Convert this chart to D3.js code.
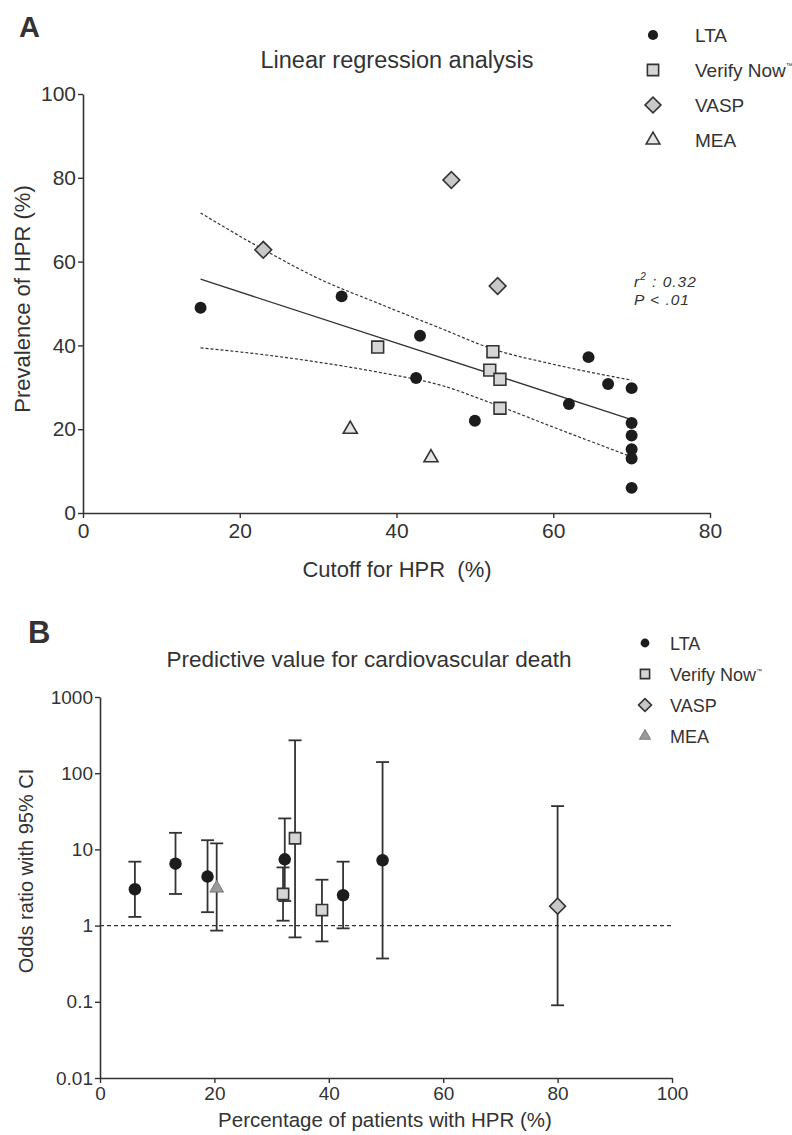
<!DOCTYPE html>
<html>
<head>
<meta charset="utf-8">
<script src="https://cdn.jsdelivr.net/npm/d3@7"></script>
<style>
  body { margin: 0; background: #fff; }
  text { font-family: "Liberation Sans", Arial, sans-serif; fill: #333; }
</style>
</head>
<body>
<div id="chart"></div>
<script>
// ---- Panel A data: cutoff for HPR (%) vs prevalence of HPR (%)
var ltaCutoff = [15, 33, 43, 42.5, 50, 62, 64.5, 67, 70, 70, 70, 70, 70, 70];
var ltaPrev   = [49, 51.7, 42.3, 32.2, 22, 26, 37.2, 30.8, 29.8, 21.5, 18.5, 15.2, 13, 6];
var vnCutoff  = [37.6, 52.3, 51.9, 53.2, 53.2];
var vnPrev    = [39.6, 38.5, 34.1, 31.9, 25];
var vaspCutoff = [23, 47, 52.9];
var vaspPrev   = [62.8, 79.5, 54.2];
var meaCutoff  = [34.1, 44.4];
var meaPrev    = [20, 13.2];

// regression line and its confidence band
var fitX = [15, 70];
var fitY = [55.8, 22.3];
var bandX     = [15, 23, 30, 38, 46, 52, 60, 70];
var bandUpper = [71.6, 62.9, 56, 49.8, 43.8, 39.3, 35.5, 31.7];
var bandLower = [39.4, 37.8, 36, 33.5, 30.3, 26.3, 20.5, 13.4];

// ---- Panel B data: % patients with HPR vs odds ratio (95% CI)
var ltaPct = [6.1, 13.2, 18.8, 32.3, 42.5, 49.4];
var ltaOr  = [3.0, 6.5, 4.4, 7.4, 2.5, 7.2];
var ltaLo  = [1.3, 2.6, 1.5, 2.1, 0.92, 0.37];
var ltaHi  = [6.9, 16.5, 13.2, 25.5, 6.9, 140];
var vnPct  = [32.0, 34.1, 38.8];
var vnOr   = [2.6, 14, 1.6];
var vnLo   = [1.16, 0.7, 0.62];
var vnHi   = [5.8, 270, 4.0];
var vaspPct = [80];
var vaspOr  = [1.8];
var vaspLo  = [0.09];
var vaspHi  = [37];
var meaPct  = [20.4];
var meaOr   = [3.1];
var meaLo   = [0.86];
var meaHi   = [12];

var methods = ["LTA", "Verify Now", "VASP", "MEA"];
var ticksA_x = [0, 20, 40, 60, 80];
var ticksA_y = [0, 20, 40, 60, 80, 100];
var ticksB_x = [0, 20, 40, 60, 80, 100];
var ticksB_y = [0.01, 0.1, 1, 10, 100, 1000];

var width = 792, height = 1135;
var ink = "#333";

var svg = d3.select("#chart")
    .append("svg")
    .attr("width", width)
    .attr("height", height);

// Marker drawing (circle / square / diamond / triangle)
function marker(g, kind, x, y, k, panel) {
  var sym = d3.symbol();
  var fill, stroke = ink, sw = 1.6, rot = 0;
  if (kind === "LTA") {
    sym.type(d3.symbolCircle).size(102 * k);
    fill = "#1c1c1c"; stroke = "none";
  } else if (kind === "Verify Now") {
    sym.type(d3.symbolSquare).size(140 * k);
    fill = "#d6d6d6";
  } else if (kind === "VASP") {
    sym.type(d3.symbolSquare).size(140 * k);
    fill = "#c8c8c8"; rot = 45;
  } else {
    sym.type(d3.symbolTriangle).size(90 * k);
    fill = panel === "B" ? "#9a9a9a" : "#e4e4e4";
    if (panel === "B") { stroke = "#7a7a7a"; sw = 1; }
  }
  g.append("path")
    .attr("d", sym())
    .attr("transform", `translate(${x},${y}) rotate(${rot})`)
    .attr("fill", fill)
    .attr("stroke", stroke)
    .attr("stroke-width", sw);
}

function styleAxis(g, size) {
  g.select(".domain").attr("stroke", ink).attr("stroke-width", 1.6);
  g.selectAll(".tick line").attr("stroke", ink).attr("stroke-width", 1.4);
  g.selectAll(".tick text")
    .attr("fill", ink)
    .style("font-family", '"Liberation Sans", Arial, sans-serif')
    .style("font-size", size + "px");
}

// ================= Panel A =================
var xA = d3.scaleLinear().domain([0, 80]).range([83, 710]);
var yA = d3.scaleLinear().domain([0, 100]).range([513, 94]);

svg.append("text").attr("x", 19).attr("y", 37)
    .style("font-size", "29px").style("font-weight", "bold").attr("fill", "#222")
    .text("A");

svg.append("text").attr("x", 397).attr("y", 68)
    .attr("text-anchor", "middle").style("font-size", "23.5px")
    .text("Linear regression analysis");

svg.append("g")
    .attr("transform", `translate(0,${yA(0)})`)
    .call(d3.axisBottom(xA).tickValues(ticksA_x).tickSize(5).tickSizeOuter(0).tickPadding(5))
    .call(styleAxis, 21);

svg.append("g")
    .attr("transform", `translate(${xA(0)},0)`)
    .call(d3.axisLeft(yA).tickValues(ticksA_y).tickSize(5).tickSizeOuter(0).tickPadding(2))
    .call(styleAxis, 21);

svg.append("text").attr("x", 397).attr("y", 577)
    .attr("text-anchor", "middle").style("font-size", "22px")
    .style("white-space", "pre")
    .text("Cutoff for HPR  (%)");

svg.append("text")
    .attr("transform", "translate(30,299) rotate(-90)")
    .attr("text-anchor", "middle").style("font-size", "22px")
    .text("Prevalence of HPR (%)");

// confidence band + fit
var bandLine = d3.line().curve(d3.curveMonotoneX);
svg.append("path")
    .attr("d", bandLine(bandX.map((d, i) => [xA(d), yA(bandUpper[i])])))
    .attr("fill", "none").attr("stroke", ink).attr("stroke-width", 1.2)
    .attr("stroke-dasharray", "3,2");
svg.append("path")
    .attr("d", bandLine(bandX.map((d, i) => [xA(d), yA(bandLower[i])])))
    .attr("fill", "none").attr("stroke", ink).attr("stroke-width", 1.2)
    .attr("stroke-dasharray", "3,2");
svg.append("path")
    .attr("d", d3.line()(fitX.map((d, i) => [xA(d), yA(fitY[i])])))
    .attr("fill", "none").attr("stroke", ink).attr("stroke-width", 1.3);

var gA = svg.append("g");
ltaCutoff.forEach((d, i) => marker(gA, "LTA", xA(d), yA(ltaPrev[i]), 1.1, "A"));
vnCutoff.forEach((d, i) => marker(gA, "Verify Now", xA(d), yA(vnPrev[i]), 1, "A"));
vaspCutoff.forEach((d, i) => marker(gA, "VASP", xA(d), yA(vaspPrev[i]), 1, "A"));
meaCutoff.forEach((d, i) => marker(gA, "MEA", xA(d), yA(meaPrev[i]), 0.95, "A"));

// r² annotation
var ann = svg.append("text").attr("x", 634).attr("y", 287)
    .style("font-size", "15.5px").style("font-style", "italic")
    .style("letter-spacing", "1px");
ann.append("tspan").text("r");
ann.append("tspan").attr("dy", -7).style("font-size", "10px").text("2");
ann.append("tspan").attr("dy", 7).text(" : 0.32");
svg.append("text").attr("x", 634).attr("y", 305)
    .style("font-size", "15.5px").style("font-style", "italic")
    .style("letter-spacing", "1px")
    .text("P < .01");

// legend A
methods.forEach(function(m, i) {
  var yy = 35 + i * 35;
  marker(svg, m, 653, yy, m === "LTA" ? 0.8 : 0.9, "A");
  var t = svg.append("text").attr("x", 695).attr("y", yy + 7)
      .style("font-size", "19px").text(m);
  if (m === "Verify Now") {
    t.append("tspan").attr("dy", -9).style("font-size", "7px").text("™");
  }
});

// ================= Panel B =================
var xB = d3.scaleLinear().domain([0, 100]).range([100, 672]);
var yB = d3.scaleLog().domain([0.01, 1000]).range([1078, 697]);

svg.append("text").attr("x", 28).attr("y", 643)
    .style("font-size", "31px").style("font-weight", "bold").attr("fill", "#222")
    .text("B");

svg.append("text").attr("x", 369).attr("y", 667)
    .attr("text-anchor", "middle").style("font-size", "22.5px")
    .text("Predictive value for cardiovascular death");

svg.append("g")
    .attr("transform", `translate(0,${yB(0.01)})`)
    .call(d3.axisBottom(xB).tickValues(ticksB_x).tickSize(5).tickSizeOuter(0).tickPadding(4))
    .call(styleAxis, 19);

svg.append("g")
    .attr("transform", `translate(${xB(0)},0)`)
    .call(d3.axisLeft(yB).tickValues(ticksB_y).tickFormat(d => String(d))
          .tickSize(5).tickSizeOuter(0).tickPadding(2))
    .call(styleAxis, 19);

svg.append("text").attr("x", 385).attr("y", 1127)
    .attr("text-anchor", "middle").style("font-size", "20.5px")
    .text("Percentage of patients with HPR (%)");

svg.append("text")
    .attr("transform", "translate(33,871) rotate(-90)")
    .attr("text-anchor", "middle").style("font-size", "20px")
    .text("Odds ratio with 95% CI");

// reference line at OR = 1
svg.append("line")
    .attr("x1", xB(0)).attr("x2", xB(100))
    .attr("y1", yB(1)).attr("y2", yB(1))
    .attr("stroke", ink).attr("stroke-width", 1.2)
    .attr("stroke-dasharray", "4,3");

var series = [
  { m: "LTA", x: ltaPct, or: ltaOr, lo: ltaLo, hi: ltaHi },
  { m: "Verify Now", x: vnPct, or: vnOr, lo: vnLo, hi: vnHi },
  { m: "VASP", x: vaspPct, or: vaspOr, lo: vaspLo, hi: vaspHi },
  { m: "MEA", x: meaPct, or: meaOr, lo: meaLo, hi: meaHi }
];

var gBars = svg.append("g").attr("stroke", ink).attr("stroke-width", 1.8);
series.forEach(function(s) {
  s.x.forEach(function(d, i) {
    var cx = xB(d);
    gBars.append("line").attr("x1", cx).attr("x2", cx)
        .attr("y1", yB(s.lo[i])).attr("y2", yB(s.hi[i]));
    [s.lo[i], s.hi[i]].forEach(function(v) {
      gBars.append("line").attr("x1", cx - 6.5).attr("x2", cx + 6.5)
          .attr("y1", yB(v)).attr("y2", yB(v));
    });
  });
});

var gB = svg.append("g");
series.forEach(function(s) {
  s.x.forEach(function(d, i) {
    marker(gB, s.m, xB(d), yB(s.or[i]), s.m === "LTA" ? 1.2 : 0.9, "B");
  });
});

// legend B
methods.forEach(function(m, i) {
  var yy = 643 + i * 31;
  marker(svg, m, 645, yy, 0.6, "B");
  var t = svg.append("text").attr("x", 670).attr("y", yy + 6.5)
      .style("font-size", "18px").text(m);
  if (m === "Verify Now") {
    t.append("tspan").attr("dy", -8).style("font-size", "6px").text("™");
  }
});
</script>
</body>
</html>
